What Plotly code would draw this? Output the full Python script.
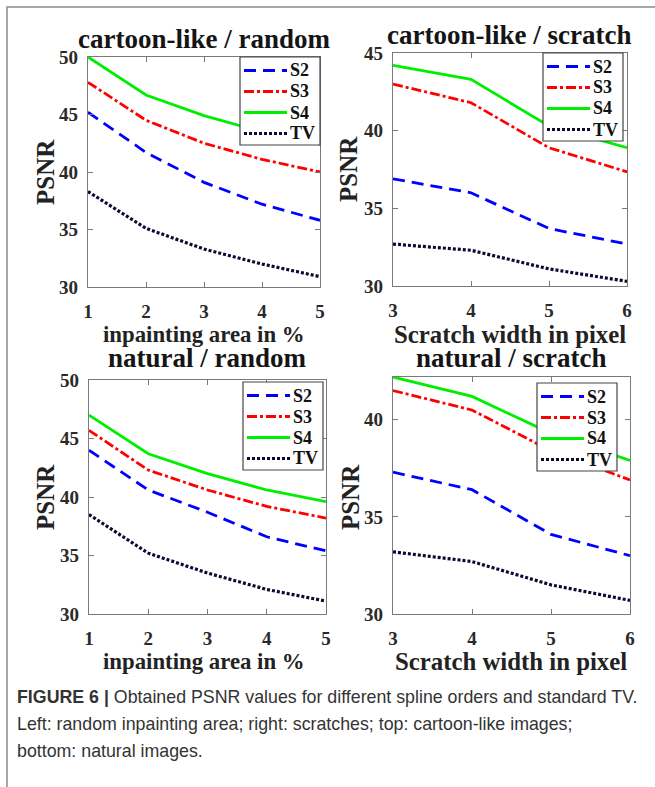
import plotly.graph_objects as go

# ---------------- data ----------------
x_area = [1, 2, 3, 4, 5]
x_scratch = [3, 4, 5, 6]
series_names = ["S2", "S3", "S4", "TV"]

# cartoon-like / random
cr_S2 = [45.2, 41.7, 39.1, 37.2, 35.8]
cr_S3 = [47.8, 44.5, 42.5, 41.1, 40.0]
cr_S4 = [50.0, 46.7, 44.9, 43.5, 42.4]
cr_TV = [38.3, 35.1, 33.3, 32.0, 30.9]

# cartoon-like / scratch
cs_S2 = [36.9, 36.0, 33.7, 32.7]
cs_S3 = [43.0, 41.8, 38.9, 37.35]
cs_S4 = [44.2, 43.3, 40.3, 38.9]
cs_TV = [32.7, 32.3, 31.1, 30.3]

# natural / random
nr_S2 = [44.0, 40.6, 38.7, 36.6, 35.4]
nr_S3 = [45.7, 42.3, 40.6, 39.2, 38.2]
nr_S4 = [47.0, 43.7, 42.0, 40.6, 39.6]
nr_TV = [38.5, 35.2, 33.5, 32.1, 31.1]

# natural / scratch
ns_S2 = [37.3, 36.4, 34.1, 33.0]
ns_S3 = [41.5, 40.5, 38.4, 36.9]
ns_S4 = [42.2, 41.2, 39.3, 37.9]
ns_TV = [33.2, 32.7, 31.5, 30.7]

panel_titles = ["cartoon-like / random", "cartoon-like / scratch",
                "natural / random", "natural / scratch"]
x_titles = ["inpainting area in %", "Scratch width in pixel"]
y_title = "PSNR"
caption_lines = [
    "<b>FIGURE 6 |</b> Obtained PSNR values for different spline orders and standard TV.",
    "Left: random inpainting area; right: scratches; top: cartoon-like images;",
    "bottom: natural images.",
]

# ---------------- layout helpers ----------------
W, H = 655, 787
def px(x):
    return x / W
def py(y):
    return 1 - y / H

SERIF = "Liberation Serif"
SANS = "Liberation Sans"
styles = {
    "S2": dict(color="#0000ff", dash="12px,7px", width=2.8),
    "S3": dict(color="#ff0000", dash="10px,3px,3px,3px", width=2.8),
    "S4": dict(color="#00ee00", dash="solid", width=2.8),
    "TV": dict(color="#0a0a33", dash="3px,2px", width=3.2),
}

# panel boxes in pixels: (left, right, top, bottom)
boxes = [(88, 320, 57, 287), (393, 627, 53, 286),
         (89, 326, 380, 614), (393, 630, 377, 614)]
legend_boxes = [(320, 57), (623, 53), (323, 382), (617, 383)]  # right, top
yranges = [[30, 50], [30, 45], [30, 50], [30, 42.2]]
xranges = [[1, 5], [3, 6], [1, 5], [3, 6]]
panels = [
    (x_area, [cr_S2, cr_S3, cr_S4, cr_TV]),
    (x_scratch, [cs_S2, cs_S3, cs_S4, cs_TV]),
    (x_area, [nr_S2, nr_S3, nr_S4, nr_TV]),
    (x_scratch, [ns_S2, ns_S3, ns_S4, ns_TV]),
]

fig = go.Figure()
layout = dict(
    width=W, height=H, margin=dict(l=0, r=0, t=0, b=0, autoexpand=False),
    paper_bgcolor="white", plot_bgcolor="white", showlegend=False,
    font=dict(family=SERIF, color="#222"),
)

axis_common = dict(
    showgrid=False, zeroline=False, showline=True, linecolor="#7a7a7a",
    linewidth=1.2, mirror="ticks", ticks="inside", ticklen=5,
    tickcolor="#7a7a7a", tickwidth=1.2, automargin=False,
    tickfont=dict(family=SERIF, size=19, color="#2a2a2a", weight="bold"),
)

shapes = [dict(
    type="rect", xref="paper", yref="paper",
    x0=px(7), x1=px(W + 10), y0=py(H + 10), y1=py(7),
    line=dict(color="#8a8a8a", width=1.5), fillcolor="rgba(0,0,0,0)",
)]
annotations = []

for i, (xs, ys_list) in enumerate(panels):
    n = "" if i == 0 else str(i + 1)
    for name, ys in zip(series_names, ys_list):
        st = styles[name]
        fig.add_trace(go.Scatter(
            x=xs, y=ys, mode="lines", name=name,
            line=dict(color=st["color"], dash=st["dash"], width=st["width"]),
            xaxis="x" + n, yaxis="y" + n,
        ))
    l, r, t, b = boxes[i]
    layout["xaxis" + n] = dict(
        axis_common, domain=[px(l), px(r)], range=xranges[i],
        dtick=1, anchor="y" + n, ticklabelstandoff=7,
    )
    layout["yaxis" + n] = dict(
        axis_common, domain=[py(b), py(t)], range=yranges[i],
        dtick=5, tick0=30, anchor="x" + n, ticklabelstandoff=5,
    )
    # legend box (per panel)
    R, T = legend_boxes[i]
    shapes.append(dict(
        type="rect", xref="paper", yref="paper", layer="above",
        x0=px(R - 80), x1=px(R), y0=py(T + 88), y1=py(T),
        line=dict(color="#444", width=1.2), fillcolor="white",
    ))
    for k, name in enumerate(series_names):
        st = styles[name]
        yy = T + 13.5 + k * 21
        shapes.append(dict(
            type="line", xref="paper", yref="paper", layer="above",
            x0=px(R - 76), x1=px(R - 33), y0=py(yy), y1=py(yy),
            line=dict(color=st["color"], dash=st["dash"], width=st["width"]),
        ))
        annotations.append(dict(
            x=px(R - 32), y=py(yy), xref="paper", yref="paper",
            text="<b>%s</b>" % name, showarrow=False,
            xanchor="left", yanchor="middle",
            font=dict(family=SERIF, size=18, color="#111"),
        ))

title_pos = [(204, 38.5), (509, 35), (207, 358), (511, 358)]
for (tx, ty), txt in zip(title_pos, panel_titles):
    annotations.append(dict(
        x=px(tx), y=py(ty), xref="paper", yref="paper", text="<b>%s</b>" % txt,
        showarrow=False, xanchor="center", yanchor="middle",
        font=dict(family=SERIF, size=27, color="#151515"),
    ))
xt_pos = [(204, 334, 0), (510, 334, 1), (204, 661, 0), (511, 661, 1)]
xt_sizes = [22.8, 24.8]
for tx, ty, k in xt_pos:
    annotations.append(dict(
        x=px(tx), y=py(ty), xref="paper", yref="paper", text="<b>%s</b>" % x_titles[k],
        showarrow=False, xanchor="center", yanchor="middle",
        font=dict(family=SERIF, size=xt_sizes[k], color="#222"),
    ))
yt_pos = [(45, 172), (348, 169), (45, 497), (350, 497)]
for tx, ty in yt_pos:
    annotations.append(dict(
        x=px(tx), y=py(ty), xref="paper", yref="paper", text="<b>%s</b>" % y_title,
        showarrow=False, xanchor="center", yanchor="middle", textangle=-90,
        font=dict(family=SERIF, size=25, color="#222"),
    ))
for k, (line, ly) in enumerate(zip(caption_lines, [697, 724, 751])):
    annotations.append(dict(
        x=px(15), y=py(ly), xref="paper", yref="paper", text=line,
        showarrow=False, xanchor="left", yanchor="middle",
        font=dict(family=SANS, size=17.8, color="#333"),
    ))
layout["annotations"] = annotations
layout["shapes"] = shapes

fig.update_layout(**layout)
fig.write_html(
    "out.html",
    config={"displayModeBar": False},
    post_script="document.body.style.margin='0px';document.body.style.overflow='hidden';",
)
